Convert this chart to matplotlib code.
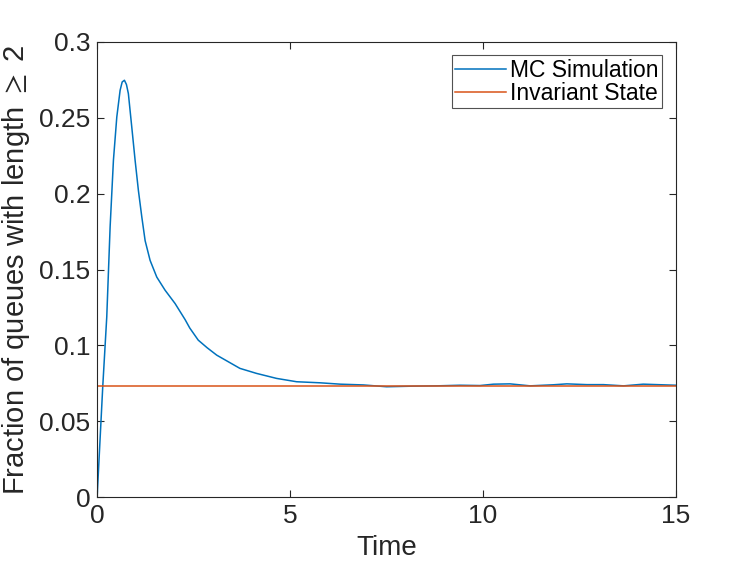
import numpy as np
import matplotlib
matplotlib.use('Agg')
import matplotlib.pyplot as plt
from matplotlib.ticker import FuncFormatter

# ======================
# data
# ======================
time = [0, 0.147, 0.25, 0.337, 0.423, 0.51, 0.596, 0.65, 0.708, 0.76, 0.81,
        0.898, 0.984, 1.07, 1.158, 1.244, 1.373, 1.546, 1.76, 2.02, 2.28,
        2.40, 2.62, 2.85, 3.10, 3.70, 4.13, 4.65, 5.17, 5.78, 6.30, 6.90, 7.50,
        8.19, 8.80, 9.40, 9.92, 10.27, 10.70, 11.22, 11.82, 12.17, 12.69,
        13.12, 13.64, 14.15, 14.75, 15.0]
mc_sim = [0, 0.0733, 0.1188, 0.178, 0.222, 0.2504, 0.268, 0.2735, 0.2746,
          0.2718, 0.2658, 0.2438, 0.222, 0.202, 0.1846, 0.169, 0.156, 0.145,
          0.1364, 0.1276, 0.1170, 0.1115, 0.1035, 0.0985, 0.0936, 0.0849,
          0.0816, 0.0783, 0.0761, 0.0754, 0.0745, 0.0740, 0.0728, 0.0732,
          0.0734, 0.0738, 0.0736, 0.0745, 0.0747, 0.0734, 0.0741, 0.0747,
          0.0742, 0.0742, 0.0734, 0.0745, 0.0740, 0.0738]
invariant = 0.0733

x_ticks = [0, 5, 10, 15]
y_ticks = [0, 0.05, 0.1, 0.15, 0.2, 0.25, 0.3]

plt.rcParams['font.family'] = ['Liberation Sans', 'DejaVu Sans']
plt.rcParams['mathtext.fontset'] = 'stixsans'

fig = plt.figure(figsize=(7.47, 5.61), dpi=100)
ax = fig.add_axes([0.130, 0.1135, 0.775, 0.8122])

ax.plot(time, mc_sim, color='#0072BD', lw=1.1, label='MC Simulation')
ax.plot([time[0], time[-1]], [invariant, invariant], color='#D95319', lw=1.1,
        label='Invariant State')

ax.set_xlim(0, 15)
ax.set_ylim(0, 0.3)
ax.set_xticks(x_ticks)
ax.set_yticks(y_ticks)
ax.yaxis.set_major_formatter(FuncFormatter(lambda v, p: f'{v:g}'))
ax.tick_params(direction='in', top=True, right=True, length=5, width=0.8,
               labelsize=19, colors='#262626', pad=5)
for s in ax.spines.values():
    s.set_color('#262626')
    s.set_linewidth(0.8)

ax.set_xlabel('Time', fontsize=20, color='#262626', labelpad=5)
ax.set_ylabel(r'Fraction of queues with length $\geq$ 2', fontsize=21,
              color='#262626', labelpad=5)

leg = ax.legend(loc='upper right', fontsize=16.5, frameon=True, fancybox=False,
                edgecolor='#262626', handlelength=2.2, handletextpad=0.2,
                borderpad=0.15, labelspacing=0.0, borderaxespad=0.6)
leg.get_frame().set_linewidth(0.8)

fig.savefig('out.png', dpi=100)
